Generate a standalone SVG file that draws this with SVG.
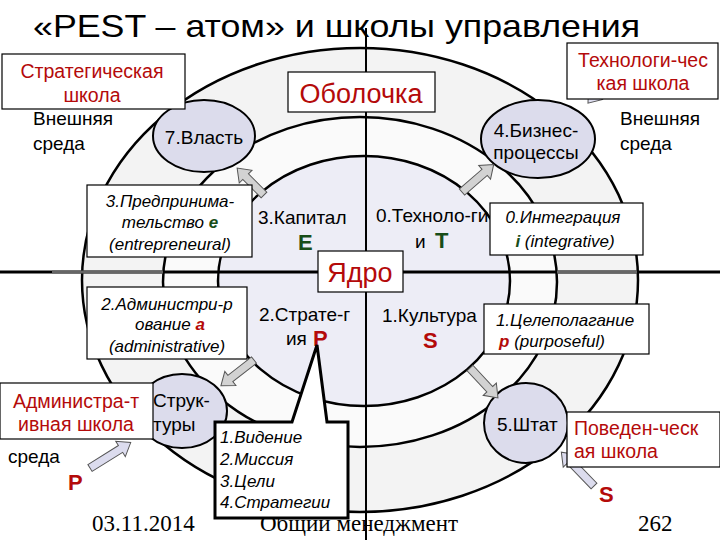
<svg xmlns="http://www.w3.org/2000/svg" width="720" height="540" viewBox="0 0 720 540">
<style>
text{font-family:"Liberation Sans",Arial,sans-serif;fill:#000}
.t{font-size:19px}
.sch{font-size:19.5px;fill:#b40a0a;text-anchor:middle}
.schl{font-size:19.5px;fill:#b40a0a}
.lab{font-size:27px;fill:#b40a0a;text-anchor:middle}
.it{font-style:italic;font-size:17px;text-anchor:middle}
.il{font-style:italic;font-size:17px}
.box{fill:#fff;stroke:#000;stroke-width:1.2}
.node{fill:#dcdcec;stroke:#000;stroke-width:2}
.ring{stroke:#000;stroke-width:2.5}
.arr{fill:#d2d2d2;stroke:#555;stroke-width:1}
.arr2{fill:#dcdcee;stroke:#555;stroke-width:1}
.big{font-weight:bold;font-size:22px}
.red{fill:#b40a0a}
.grn{fill:#184d18}
.foot{font-family:"Liberation Serif","Times New Roman",serif;font-size:23px}
</style>
<rect width="720" height="540" fill="#fff"/>
<g id="rings">
<ellipse class="ring" cx="360" cy="280" rx="278" ry="232" fill="#f3f3f3"/>
<ellipse class="ring" cx="360" cy="282" rx="197" ry="165" fill="#fafafa"/>
<ellipse class="ring" cx="364" cy="281" rx="146" ry="125" fill="#ededf6"/>
</g>
<g id="axes">
<line x1="0" y1="272" x2="720" y2="272" stroke="#000" stroke-width="3"/>
<line x1="52" y1="272" x2="163" y2="272" stroke="#666" stroke-width="3"/>
<line x1="557" y1="272" x2="637" y2="272" stroke="#666" stroke-width="3"/>
<line x1="366" y1="28" x2="366" y2="540" stroke="#000" stroke-width="2"/>
</g>
<text x="33" y="37" font-size="32" textLength="607" lengthAdjust="spacingAndGlyphs">«PEST – атом» и школы управления</text>
<g id="outer-texts">
<text class="t" x="33" y="125">Внешняя</text>
<text class="t" x="33" y="150">среда</text>
<text class="t" x="620" y="125">Внешняя</text>
<text class="t" x="620" y="150">среда</text>
<text class="t" x="8" y="463">среда</text>
<text class="big red" x="68" y="490">P</text>
<text class="big red" x="599" y="502">S</text>
</g>
<g id="core-texts">
<text class="t" x="258" y="224">3.Капитал</text>
<text class="big grn" x="298" y="250">E</text>
<text class="t" x="376" y="222">0.Техноло-ги</text>
<text class="t" x="415" y="248">и</text>
<text class="big grn" x="435" y="248">T</text>
<text class="t" x="259" y="321">2.Страте-г</text>
<text class="t" x="286" y="345">ия</text>
<text class="big red" x="313" y="346">P</text>
<text class="t" x="382" y="322">1.Культура</text>
<text class="big red" x="423" y="348">S</text>
</g>
<g id="footer">
<text class="foot" x="92" y="531">03.11.2014</text>
<text class="foot" x="260" y="531">Общий менеджмент</text>
<text class="foot" x="638" y="531">262</text>
</g>
<g id="n-vlast"><ellipse class="node" cx="204" cy="136" rx="51" ry="36"/><text class="t" x="204" y="144" text-anchor="middle">7.Власть</text></g>
<g id="n-business"><ellipse class="node" cx="538" cy="139" rx="57" ry="39"/><text class="t" x="536" y="137" text-anchor="middle">4.Бизнес-</text><text class="t" x="536" y="159" text-anchor="middle">процессы</text></g>
<g id="n-struct"><ellipse class="node" cx="182" cy="411" rx="45" ry="37"/><text class="t" x="153" y="407">Струк-</text><text class="t" x="153" y="431">туры</text></g>
<g id="n-shtat"><ellipse class="node" cx="526" cy="423" rx="42" ry="40"/><text class="t" x="497" y="431" font-size="18">5.Штат</text></g>
<g id="connectors">
<path class="arr" transform="translate(264,195) rotate(-135)" d="M0,-4 H26 V-9 L38,0 L26,9 V4 H0 Z"/>
<path class="arr" transform="translate(462,192) rotate(-41)" d="M0,-4 H30 V-9 L42,0 L30,9 V4 H0 Z"/>
<path class="arr" transform="translate(254,360) rotate(142)" d="M0,-4 H30 V-9 L42,0 L30,9 V4 H0 Z"/>
<path class="arr" transform="translate(470,368) rotate(47)" d="M0,-4 H29 V-9 L41,0 L29,9 V4 H0 Z"/>
<path class="arr2" transform="translate(90,468) rotate(-32)" d="M0,-4 H36 V-9 L48,0 L36,9 V4 H0 Z"/>
<path class="arr2" transform="translate(594,486) rotate(-134)" d="M0,-4 H35 V-9 L47,0 L35,9 V4 H0 Z"/>
<path class="arr2" transform="translate(610,76) rotate(129)" d="M0,-4 H23 V-9 L35,0 L23,9 V4 H0 Z"/>
</g>
<g id="b-obolochka"><rect class="box" x="288" y="72" width="147" height="40"/><text class="lab" x="361" y="103">Оболочка</text></g>
<g id="b-yadro"><rect class="box" x="318" y="251" width="85" height="41"/><text class="lab" x="360" y="282">Ядро</text></g>
<g id="b-strat-school"><rect class="box" x="2" y="54" width="183" height="55"/><text class="sch" x="92" y="78">Стратегическая</text><text class="sch" x="92" y="102">школа</text></g>
<g id="b-tech-school"><rect class="box" x="567" y="43" width="151" height="56"/><text class="sch" x="643" y="67">Технологи-чес</text><text class="sch" x="643" y="90">кая школа</text></g>
<g id="b-admin-school"><rect class="box" x="0" y="383" width="153" height="56"/><text class="sch" x="76" y="408">Администра-т</text><text class="sch" x="76" y="431">ивная школа</text></g>
<g id="b-behav-school"><rect class="box" x="567" y="412" width="153" height="55"/><text class="schl" x="574" y="435">Поведен-ческ</text><text class="schl" x="574" y="458">ая школа</text></g>
<g id="b-entre"><rect class="box" x="87" y="185" width="165" height="72"/><text class="it" x="170" y="207">3.Предпринима-</text><text class="it" x="170" y="228">тельство <tspan font-weight="bold" class="grn">e</tspan></text><text class="it" x="170" y="250">(entrepreneural)</text></g>
<g id="b-admin"><rect class="box" x="87" y="287" width="160" height="72"/><text class="it" x="167" y="310">2.Администри-р</text><text class="it" x="170" y="330">ование <tspan font-weight="bold" class="red">a</tspan></text><text class="it" x="167" y="352">(administrative)</text></g>
<g id="b-integr"><rect class="box" x="490" y="203" width="153" height="52"/><text class="it" x="563" y="223">0.Интеграция</text><text class="it" x="565" y="247"><tspan font-weight="bold" class="grn">i</tspan> (integrative)</text></g>
<g id="b-purpose"><rect class="box" x="484" y="304" width="165" height="50"/><text class="it" x="565" y="326">1.Целеполагание</text><text class="it" x="552" y="347"><tspan font-weight="bold" class="red">p</tspan> (purposeful)</text></g>
<g id="b-callout"><path d="M215,422 H292 L317,345 L327,422 H348 V518 H215 Z" fill="#fff" stroke="#000" stroke-width="3"/>
<text class="il" x="220" y="443">1.Видение</text><text class="il" x="220" y="465">2.Миссия</text><text class="il" x="220" y="487">3.Цели</text><text class="il" x="220" y="508">4.Стратегии</text></g>
</svg>
